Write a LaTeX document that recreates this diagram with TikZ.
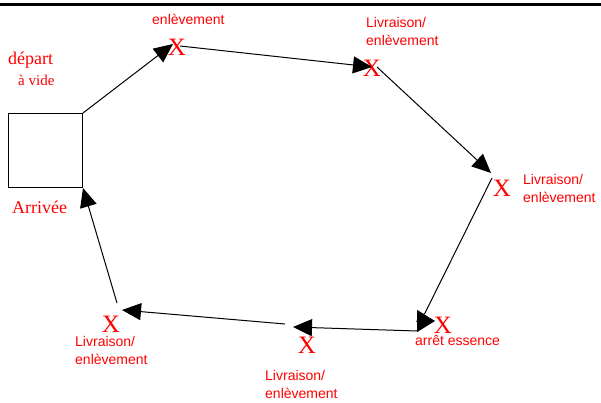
\documentclass[tikz,border=0pt]{standalone}
\usepackage{fontspec}
\setmainfont{Liberation Serif}
\newfontfamily\arialf{Liberation Sans}
\usetikzlibrary{arrows.meta}
\begin{document}
\begin{tikzpicture}[x=1pt,y=-1pt,
  conn/.style={line width=1pt, -{Triangle[length=19pt,width=17pt]}},
  oddconn/.style={line width=1pt, -{Triangle[length=18pt,width=22pt]}},
  xmark/.style={text=red, font=\fontsize{25}{25}\selectfont, inner sep=0pt},
  lab/.style={text=red, font=\arialf\fontsize{14}{18}\selectfont, inner sep=0pt, anchor=base west},
  slab/.style={text=red, inner sep=0pt, anchor=base west},
  boxst/.style={draw, line width=1pt, minimum width=74pt, minimum height=74pt, inner sep=0pt, anchor=north west}]
\useasboundingbox (0,0) rectangle (601,403);
\draw[line width=2.7pt] (0,4.7) -- (601,4.7);

% depot
\node[boxst] (sq) at (8,113) {};
\node[slab, font=\fontsize{18}{18}\selectfont] (dep) at (8,65) {départ};
\node[slab, font=\fontsize{15}{15}\selectfont] (vide) at (18,86) {à vide};
\node[slab, font=\fontsize{18}{18}\selectfont] (arr) at (12,213) {Arrivée};

% stops
\node[xmark] (x1) at (177,47) {X};
\node[xmark] (x2) at (372,68) {X};
\node[xmark] (x3) at (502,188) {X};
\node[xmark] (x4) at (443,325) {X};
\node[xmark] (x5) at (307,345) {X};
\node[xmark] (x6) at (111,324) {X};

% labels
\node[lab] (l1) at (152,25) {enlèvement};
\node[lab] (l2) at (366,28) {\vtop{\hbox{Livraison/}\hbox{enlèvement}}};
\node[lab] (l3) at (523,185) {\vtop{\hbox{Livraison/}\hbox{enlèvement}}};
\node[lab] (l4) at (415,345) {arrêt essence};
\node[lab] (l5) at (265,380) {\vtop{\hbox{Livraison/}\hbox{enlèvement}}};
\node[lab] (l6) at (75,346) {\vtop{\hbox{Livraison/}\hbox{enlèvement}}};

% connector ends
\coordinate (t1) at (173,44);
\coordinate (s2) at (180,46);
\coordinate (t2) at (372,67);
\coordinate (s3) at (377,67);
\coordinate (t3) at (491,173);
\coordinate (s4) at (492,178);
\coordinate (k4a) at (425,313);
\coordinate (k4b) at (417,321);
\coordinate (t4) at (435,321);
\coordinate (s5) at (417,331);
\coordinate (t5) at (293,327);
\coordinate (s6) at (285,324);
\coordinate (t6) at (122,310);
\coordinate (s7) at (117,303);

\draw[conn] (sq.north east) -- (t1);
\draw[conn] (s2) -- (t2);
\draw[conn] (s3) -- (t3);
\draw[oddconn] (s4) -- (k4a) -- (k4b) -- (t4);
\draw[conn] (s5) -- (t5);
\draw[conn] (s6) -- (t6);
\draw[conn] (s7) -- (sq.south east);
\end{tikzpicture}
\end{document}
